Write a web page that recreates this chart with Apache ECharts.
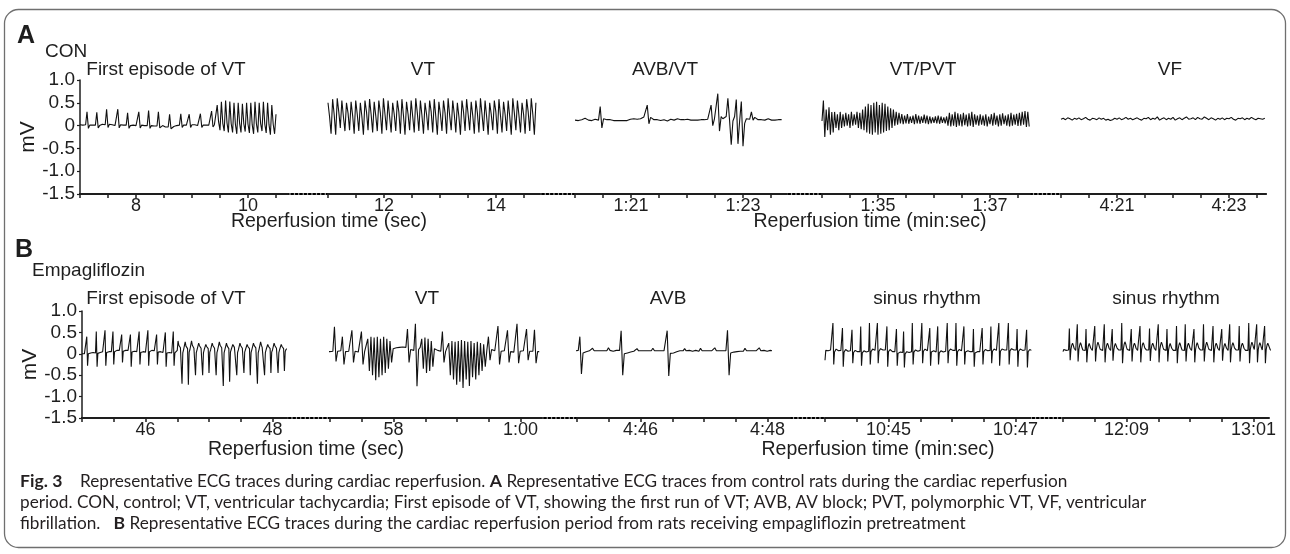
<!DOCTYPE html>
<html>
<head>
<meta charset="utf-8">
<script src="https://cdn.jsdelivr.net/npm/echarts@6/dist/echarts.min.js"></script>
<style>
html, body { margin: 0; padding: 0; background: #fff; }
#main { width: 1290px; height: 554px; }
</style>
</head>
<body>
<div id="main"></div>
<script>
// ---- ECG traces, mV (one value per sample) ----
// A: CON
var conFirstVT = [0.02,0,0.01,-0.01,0.02, 0.3,-0.06, 0.01,0.03,0.01,0,0.01, 0.29,-0.05, 0,0.02,0.03,0.01,0.02,
  0.36,-0.04, 0.03,0.04,0.02,0.01,0,0.01, 0.36,-0.05, 0.02,0.03,0.01,0,0.01, 0.28,-0.06, 0,0.02,0.01,-0.01,0,0.01,
  0.3,-0.05, 0.01,0.02,0,-0.01,0, 0.33,-0.06, 0,0.01,-0.01,-0.02,-0.01, 0.3,-0.05, -0.01,0,-0.02,-0.03,-0.04,-0.03,
  0.25,-0.07, -0.03,-0.02,-0.01,0,0.01,0.01, 0.26,-0.04, 0.01,0.02,0.01,0.01, 0.25,-0.04, 0.02,0.01,0.02,0.01,0,0.01,
  0.26,-0.04, 0.01,0.02,0.01,0.02,0.01,0.02, 0.32,-0.03, 0.02,0.05,
  0.45,0.08,-0.1, 0.52,0.05,-0.12, 0.55,0.06,-0.15, 0.53,0.04,-0.15, 0.5,0.03,-0.18, 0.5,0.05,-0.15, 0.48,0.04,-0.13,
  0.5,0.03,-0.16, 0.5,0.02,-0.18, 0.52,0.04,-0.15, 0.5,0.05,-0.12, 0.52,0.03,-0.16, 0.5,0.02,-0.2, 0.45,0.03,-0.18, 0.25];
var conVT = [0.5,0.2,-0.18, 0.58,0.25,-0.2, 0.6,0.3,-0.05, 0.55,0.2,-0.12, 0.5,0.28,-0.1, 0.52,0.22,-0.18, 0.55,0.25,-0.12,
  0.5,0.2,-0.2, 0.55,0.3,-0.1, 0.58,0.25,-0.15, 0.52,0.22,-0.12, 0.55,0.28,-0.18, 0.6,0.25,-0.1, 0.55,0.2,-0.15,
  0.5,0.25,-0.12, 0.55,0.3,-0.18, 0.58,0.22,-0.2, 0.52,0.25,-0.1, 0.55,0.2,-0.15, 0.6,0.28,-0.12, 0.55,0.22,-0.18,
  0.5,0.25,-0.1, 0.55,0.3,-0.15, 0.58,0.2,-0.2, 0.52,0.25,-0.12, 0.55,0.28,-0.18, 0.6,0.22,-0.1, 0.55,0.25,-0.15,
  0.5,0.2,-0.2, 0.55,0.3,-0.12, 0.58,0.25,-0.1, 0.52,0.22,-0.18, 0.55,0.28,-0.15, 0.6,0.25,-0.12, 0.55,0.2,-0.2,
  0.5,0.25,-0.1, 0.55,0.3,-0.18, 0.58,0.22,-0.15, 0.52,0.25,-0.12, 0.55,0.2,-0.2, 0.6,0.28,-0.1, 0.55,0.22,-0.15,
  0.5,0.25,-0.18, 0.58,0.3,-0.12, 0.6,0.25,-0.2, 0.5];
var conAVBVT = [0.12,0.13,0.11,0.14,0.13,0.12,0.16,0.13,0.12,0.13,0.11,0.12,0.14,0.13,0.12, 0.42,-0.05,
  0.15,0.14,0.13,0.12,0.13,0.12,0.11,0.12, 0.11,0.12,0.11,0.1,0.11,0.12,0.11,0.12,0.14,0.13,
  0.15,0.13,0.14,0.16,0.15,0.17,0.19,0.2, 0.45,0.04, 0.18,0.15,0.13,0.12,0.13,0.12,
  0.11,0.12,0.13,0.12,0.1,0.12,0.14,0.13,0.12,0.13, 0.15,0.14,0.13,0.12,0.13,0.16,0.14,0.13,0.12,0.13,
  0.12,0.13,0.12,0.14,0.13,0.12,0.13,0.15,0.14,0.12,
  0.45,0.0,0.15,0.18,0.7,-0.12,0.2,0.15,0.12,0.2,0.6,0.12,-0.42,0.1,0.2,0.57,-0.4,0.1,0.53,-0.45,0.05,0.15,0.18,0.14,0.3,0.12,0.18,0.14,
  0.13,0.12,0.13,0.14,0.12,0.13,0.15,0.13,0.12,0.13,0.12,0.14,0.13,0.12,0.13];
var conVTPVT = [0.1,0.55,-0.25,
  0.35,-0.1,0.4,-0.2,0.3,-0.15,0.3,-0.05,0.25,-0.1,0.3,-0.05,0.25,
  -0.02,0.28,0.0,0.25,-0.05,0.3,0.0,0.25,0.02,0.3,-0.05,0.28,-0.08,0.35,-0.1,
  0.42,-0.15,0.48,-0.18,0.45,-0.2,0.5,-0.15,0.52,-0.2,0.45,-0.18,0.5,-0.15,0.48,-0.12,0.42,-0.1,0.38,-0.05,0.35,0.0,0.3,0.02,0.28,
  0.05,0.25,0.03,0.22,0.05,0.25,0.04,0.2,0.06,0.22,0.03,0.25,0.05,0.22,0.04,0.2,0.06,0.24,0.05,0.22,
  0.03,0.2,0.05,0.18,0.06,0.2,0.05,0.22,0.04,0.2,0.06,0.18,0.05,0.2,
  0.0,0.28,-0.02,0.25,0.0,0.3,-0.03,0.27,0.0,0.25,-0.02,0.28,0.01,0.24,-0.02,0.27,0.0,0.3,-0.03,0.25,
  0.02,0.22,0.0,0.25,0.02,0.22,0.0,0.25,-0.02,0.2,0.03,
  0.25,0.0,0.28,0.02,0.22,-0.02,0.25,0.0,0.27,0.03,0.22,0.0,0.25,-0.02,0.28,0.0,0.24,0.02,0.26,-0.01,
  0.28,0.0,0.3,0.02,0.32,-0.03,0.3,-0.02];
var conVF = [0.14,0.16,0.13,0.17,0.15,0.12,0.16,0.14,0.17,0.13,0.15,0.18,0.14,0.12,0.16,0.15,0.13,0.17,0.14,0.16,
  0.12,0.14,0.11,0.13,0.16,0.14,0.17,0.13,0.15,0.18,0.14,0.16,0.13,0.15,0.17,0.14,0.12,0.16,0.15,0.18,
  0.13,0.16,0.14,0.19,0.12,0.15,0.17,0.13,0.16,0.14,0.18,0.12,0.15,0.17,0.13,0.16,0.19,0.14,0.15,0.17,
  0.13,0.18,0.15,0.14,0.19,0.16,0.13,0.17,0.15,0.12,0.16,0.14,0.17,0.13,0.16,0.15,0.18,0.14,0.12,0.16,
  0.15,0.17,0.13,0.16,0.14,0.18,0.15,0.13,0.16,0.15,0.14,0.16];

// B: Empagliflozin
var empFirstVT = [0.0,0.01,0.02,0.0,-0.01,0.01,
  0.4,-0.28, 0.0,0.02,0.03,0.02,0.01,0.02,0.03,0.02,0.01,0.02,
  0.52,-0.3, 0.01,0.03,0.04,0.03,0.03,0.04,0.05,0.04,0.04,
  0.55,-0.28, 0.03,0.05,0.06,0.05,0.05,0.06,0.05,0.05,
  0.52,-0.25, 0.05,0.07,0.08,0.08,0.07,0.08,0.08,0.07,0.08,
  0.45,-0.2, 0.06,0.08,0.09,0.08,0.07,0.07,0.08,0.07,0.06,
  0.45,-0.3, 0.04,0.06,0.07,0.06,0.05,0.06,0.05,0.05,0.05,
  0.52,-0.25, 0.03,0.05,0.06,0.05,0.04,0.05,0.04,0.04,0.04,
  0.55,-0.28, 0.05,0.07,0.08,0.08,0.07,0.08,0.07,0.07,0.06,
  0.45,-0.25, 0.04,0.05,0.06,0.05,0.04,0.04,0.03,0.04,0.03,
  0.5,-0.3, 0.02,0.03,0.04,0.03,0.02,0.03,0.02,0.02,
  0.52,-0.28, 0.02,0.04,0.05,0.08,
  0.3,0.2,0.16,0.14,0.12,-0.7,0.02,0.1,0.12,
  0.28,0.18,0.14,0.12,-0.72,0.04,0.1,0.12,
  0.3,0.2,0.16,0.13,0.11,-0.5,0.03,0.1,0.12,
  0.25,0.19,0.15,0.13,0.12,-0.5,0.02,0.1,0.11,
  0.22,0.17,0.14,0.12,-0.45,0.04,0.09,0.11,
  0.25,0.19,0.15,0.13,0.11,-0.5,0.03,0.1,0.12,
  0.28,0.2,0.16,0.14,0.12,-0.75,0.02,0.1,0.12,
  0.25,0.18,0.14,0.12,-0.65,0.04,0.1,0.11,
  0.22,0.18,0.15,0.13,0.11,-0.5,0.03,0.09,0.11,
  0.25,0.19,0.15,0.13,0.12,-0.45,0.04,0.1,0.12,
  0.22,0.17,0.14,0.12,-0.5,0.03,0.1,0.11,
  0.25,0.19,0.16,0.14,0.12,-0.7,0.02,0.1,0.12,
  0.28,0.2,0.15,0.13,0.11,-0.5,0.03,0.1,0.12,
  0.22,0.17,0.14,0.12,-0.45,0.04,0.09,0.11,
  0.25,0.19,0.15,0.13,0.12,-0.45,0.03,0.1,0.12,
  0.22,0.17,0.14,0.12,-0.4,0.05,0.1,0.12];
var empVT = [-0.25, 0.05,0.06,0.05,0.07,0.06, 0.63,-0.18, 0.06,0.05,0.07, 0.4,-0.25, 0.05,0.04,0.06,0.05,
  0.55,-0.2, 0.06,0.05,0.04,0.05, 0.52,-0.25, 0.05,0.08,
  0.35,-0.4,0.4,-0.5,0.38,-0.62,0.4,-0.55,0.35,-0.5,0.4,-0.45,0.35,-0.35,0.3,-0.2,
  0.12,0.15,0.14,0.16,0.15,0.17,0.16,0.18,0.15, 0.58,-0.2, 0.1,0.12,0.08, 0.7,-0.76, 0.1,0.15,
  0.35,-0.35,0.38,-0.45,0.35,-0.4,0.3,-0.3, 0.12,0.1,0.08,0.07,0.06, 0.52,-0.2, 0.05,0.02,
  0.25,-0.5,0.3,-0.6,0.28,-0.72,0.3,-0.65,0.32,-0.8,0.3,-0.6,0.28,-0.75,0.3,-0.55,0.25,-0.6,0.28,-0.5,0.25,-0.4,0.22,-0.3,
  0.08, 0.4,-0.15, 0.1,0.08,0.07,0.06, 0.65,-0.25, 0.06,0.05,0.07,0.05, 0.55,-0.2, 0.05,0.06,0.04,0.05,
  0.7,-0.22, 0.06,0.08,0.07,0.06, 0.58,-0.15, 0.06,0.05,0.06, 0.56,-0.22, 0.05,0.05];
var empAVB = [0.07,0.08,0.07,0.06,0.08, 0.4,-0.47, 0.02,0.04,0.05,0.06,0.07,0.06, 0.13,
  0.07,0.06,0.07,0.08,0.07,0.06,0.07,0.08,0.07, 0.14, 0.08,0.07,0.06,0.07,0.08,0.07,0.08,
  0.54,-0.5, 0.0,0.01,0.02,0.03,0.04,0.05,0.06,0.07, 0.12, 0.07,0.06,0.07,0.08,0.07,0.06,0.07,0.06,0.07, 0.13,
  0.07,0.06,0.07,0.08,0.07,0.06,0.07,0.08, 0.54,-0.52, 0.01,0.02,0.02,0.04,0.05,0.06,0.07,0.06,0.07, 0.12,
  0.07,0.06,0.08,0.07,0.06,0.07,0.08,0.07,0.06, 0.13, 0.07,0.06,0.07,0.08,0.07,0.06,0.07,0.08, 0.14,
  0.07,0.06,0.07,0.08,0.07,0.06,0.07, 0.55,-0.5, 0.02,0.03,0.04,0.04,0.05,0.05,0.06,0.07,0.06, 0.13,
  0.07,0.06,0.07,0.08,0.07,0.06,0.07,0.08, 0.14, 0.07,0.06,0.08,0.07,0.06,0.07,0.08,0.07];
var empSinus1 = [-0.15, 0.08,0.09,0.08,0.07,0.09,0.1,0.09,0.08,0.1,
  0.72,-0.25, 0.04,0.08,0.11,0.1,0.08,0.07,0.08,0.07,0.08,0.07,
  0.6,-0.3, 0.04,0.08,0.1,0.09,0.07,0.06,0.07,0.06,0.07,0.06,
  0.56,-0.22, 0.03,0.06,0.08,0.07,0.05,0.05,0.04,0.05,0.05,
  0.64,-0.28, 0.02,0.05,0.07,0.06,0.04,0.04,0.05,0.05,0.06,
  0.72,-0.25, 0.05,0.09,0.11,0.1,0.08,0.08,0.09,0.08,
  0.72,-0.22, 0.06,0.1,0.12,0.11,0.09,0.09,0.08,0.09,0.09,0.08,
  0.64,-0.3, 0.05,0.09,0.1,0.08,0.06,0.05,0.06,0.05,0.05,0.05,
  0.58,-0.28, 0.01,0.04,0.05,0.04,0.02,0.02,0.03,
  0.52,-0.32, 0.0,0.03,0.05,0.04,0.03,0.03,0.04,0.04,0.05,
  0.72,-0.25, 0.04,0.07,0.09,0.08,0.06,0.06,0.07,0.07,0.08,0.08,
  0.72,-0.22, 0.06,0.09,0.11,0.1,0.08,0.07,0.07,0.06,
  0.6,-0.28, 0.04,0.07,0.08,0.07,0.05,0.04,0.04,0.04,
  0.64,-0.25, 0.02,0.05,0.07,0.06,0.04,0.04,0.05,0.05,0.06,0.06,
  0.72,-0.22, 0.06,0.09,0.11,0.1,0.08,0.08,0.08,0.07,0.08,
  0.72,-0.28, 0.05,0.08,0.1,0.09,0.08,0.07,0.08,0.07,
  0.64,-0.25, 0.04,0.07,0.08,0.07,0.05,0.05,0.05,0.04,0.05,0.05,
  0.58,-0.3, 0.02,0.04,0.06,0.05,0.04,0.04,0.05,0.05,0.06,
  0.6,-0.25, 0.05,0.08,0.1,0.09,0.07,0.07,0.08,0.08,0.08,
  0.64,-0.22, 0.06,0.09,0.11,0.1,0.08,0.08,0.09,0.08,
  0.72,-0.28, 0.06,0.09,0.11,0.1,0.09,0.09,0.09,0.08,0.09,0.09,
  0.72,-0.25, 0.07,0.1,0.12,0.11,0.1,0.09,0.1,0.09,0.09,
  0.58,-0.3, 0.06,0.09,0.11,0.1,0.09,0.08,0.09,0.08,0.09,0.08,
  0.56,-0.32, 0.05,0.08,0.1,0.09,0.08];
var empSinus2 = [0.05,0.1,0.08,0.09,0.08,0.07,0.08,0.09,
  0.59,-0.15, 0.1,0.2,0.25,0.2,0.13,0.09,0.08,0.08,
  0.69,-0.18, 0.1,0.2,0.26,0.21,0.14,0.09,0.07,0.07,0.08,
  0.58,-0.2, 0.09,0.19,0.24,0.2,0.13,0.09,0.08,0.07,0.08,
  0.65,-0.18, 0.1,0.21,0.27,0.22,0.15,0.1,0.09,0.08,0.08,0.09,
  0.69,-0.2, 0.1,0.2,0.25,0.2,0.13,0.09,0.08,0.08,
  0.58,-0.16, 0.09,0.19,0.24,0.2,0.14,0.1,0.09,0.08,0.08,0.09,
  0.72,-0.22, 0.1,0.22,0.28,0.23,0.15,0.1,0.09,0.08,0.08,0.08,
  0.58,-0.18, 0.1,0.2,0.25,0.2,0.13,0.09,0.08,0.08,0.08,
  0.65,-0.2, 0.1,0.21,0.26,0.21,0.14,0.1,0.09,0.08,0.08,0.09,
  0.59,-0.17, 0.1,0.2,0.25,0.2,0.13,0.09,0.08,0.07,0.08,
  0.69,-0.2, 0.1,0.21,0.27,0.22,0.15,0.1,0.09,0.08,0.08,
  0.58,-0.18, 0.09,0.19,0.24,0.2,0.13,0.09,0.08,0.07,0.07,0.08,
  0.65,-0.22, 0.1,0.2,0.26,0.21,0.14,0.09,0.08,0.08,0.08,
  0.69,-0.18, 0.1,0.2,0.25,0.2,0.13,0.09,0.08,0.08,0.08,
  0.58,-0.2, 0.1,0.2,0.26,0.21,0.14,0.1,0.09,0.08,0.08,0.09,
  0.69,-0.18, 0.1,0.21,0.27,0.22,0.15,0.1,0.09,0.09,0.08,0.09,
  0.65,-0.2, 0.1,0.2,0.25,0.2,0.13,0.09,0.08,0.08,0.07,
  0.58,-0.16, 0.09,0.19,0.24,0.2,0.13,0.09,0.08,0.08,
  0.69,-0.2, 0.1,0.2,0.26,0.21,0.14,0.1,0.09,0.08,0.08,0.09,
  0.65,-0.18, 0.1,0.2,0.25,0.2,0.13,0.09,0.08,0.08,0.07,0.08,
  0.72,-0.22, 0.1,0.21,0.27,0.22,0.15,0.1,0.09,0.08,
  0.69,-0.2, 0.1,0.2,0.26,0.21,0.14,0.09,0.08,0.08,
  0.65,-0.22, 0.1,0.2,0.25,0.2,0.15,0.1,0.08];

// sample start (s) and sample step (s) of each trace
var conStarts = [7, 11, 80, 94, 260];
var conSteps = [0.025, 0.0275, 0.03, 0.025, 0.04];
var empStarts = [45, 56.92, 284.92, 644, 728];
var empSteps = [0.0125, 0.025, 0.025, 0.0125, 0.0125];

// axis start of each segment (s)
var conAxisMin = [7, 11, 80, 94, 260];
var empAxisMin = [45, 57, 285, 644, 728];

// tick labels
var conLabelVals = [[8, 10], [12, 14], [81, 83], [95, 97], [261, 263]];
var conLabels = [['8', '10'], ['12', '14'], ['1:21', '1:23'], ['1:35', '1:37'], ['4:21', '4:23']];
var empLabelVals = [[46, 48], [58, 60], [286, 288], [645, 647], [729, 731]];
var empLabels = [['46', '48'], ['58', '1:00'], ['4:46', '4:48'], ['10:45', '10:47'], ['12:09', '13:01']];
var yTicks = ['-1.5', '-1.0', '-0.5', '0', '0.5', '1.0'];

var conTitles = ['First episode of VT', 'VT', 'AVB/VT', 'VT/PVT', 'VF'];
var empTitles = ['First episode of VT', 'VT', 'AVB', 'sinus rhythm', 'sinus rhythm'];

// ---- layout ----
var FONT = '"Liberation Sans", Arial, sans-serif';
var INK = '#1e1e1e';
var panels = [
  { traces: [conFirstVT, conVT, conAVBVT, conVTPVT, conVF], starts: conStarts, steps: conSteps,
    mins: conAxisMin, lv: conLabelVals, lt: conLabels, titles: conTitles,
    lefts: [80, 328, 575, 822, 1061], widths: [208, 212, 212, 208, 205], pxPerSec: 56,
    top: 80, height: 114, titleX: [166, 423, 665, 923, 1170], titleY: 70 },
  { traces: [empFirstVT, empVT, empAVB, empSinus1, empSinus2], starts: empStarts, steps: empSteps,
    mins: empAxisMin, lv: empLabelVals, lt: empLabels, titles: empTitles,
    lefts: [82, 330, 577, 825, 1063], widths: [205, 212, 213, 205, 206], pxPerSec: 63.5,
    top: 311, height: 107, titleX: [166, 427, 668, 927, 1166], titleY: 299 }
];

var grids = [], xAxes = [], yAxes = [], series = [], graphics = [];

panels.forEach(function (p, pi) {
  // dotted baseline behind the segments
  var bg = grids.length;
  grids.push({ left: p.lefts[0], top: p.top, width: p.lefts[4] + p.widths[4] - p.lefts[0], height: p.height });
  xAxes.push({ gridIndex: bg, type: 'value', min: 0, max: 1, z: 1,
    axisLine: { show: true, onZero: false, lineStyle: { color: '#000', width: 2.2, type: [2, 2.4] } },
    axisTick: { show: false }, axisLabel: { show: false }, splitLine: { show: false } });
  yAxes.push({ gridIndex: bg, show: false, min: -1.5, max: 1 });

  for (var k = 0; k < 5; k++) {
    var gi = grids.length;
    var mn = p.mins[k], mx = mn + p.widths[k] / p.pxPerSec;
    grids.push({ left: p.lefts[k], top: p.top, width: p.widths[k], height: p.height });
    var ticks = [];
    for (var t = mn; t <= mx - 0.1; t += 0.5) ticks.push(t);
    (function (vals, labs) {
      xAxes.push({ gridIndex: gi, type: 'value', min: mn, max: mx, z: 3,
        axisLine: { show: true, onZero: false, lineStyle: { color: INK, width: 2 } },
        axisTick: { show: true, customValues: ticks, length: 4, lineStyle: { color: INK, width: 1.5 } },
        axisLabel: { customValues: vals, margin: 3, fontSize: 18, color: INK, fontFamily: FONT,
          formatter: function (v) {
            for (var i = 0; i < vals.length; i++) if (Math.abs(vals[i] - v) < 1e-6) return labs[i];
            return '';
          } },
        splitLine: { show: false } });
    })(p.lv[k], p.lt[k]);

    if (k === 0) {
      yAxes.push({ gridIndex: gi, type: 'value', min: -1.5, max: 1, interval: 0.5,
        axisLine: { show: true, lineStyle: { color: INK, width: 1.5 } },
        axisTick: { show: true, length: 3, lineStyle: { color: INK, width: 1.2 } },
        axisLabel: { fontSize: 19, color: INK, fontFamily: FONT, margin: 5,
          formatter: function (v) { return yTicks[Math.round((v + 1.5) / 0.5)]; } },
        splitLine: { show: false },
        name: 'mV', nameLocation: 'middle', nameGap: 37,
        nameTextStyle: { fontSize: 21, color: INK, fontFamily: FONT } });
    } else {
      yAxes.push({ gridIndex: gi, show: false, min: -1.5, max: 1 });
    }

    var st = p.starts[k], sp = p.steps[k];
    series.push({ type: 'line', xAxisIndex: gi, yAxisIndex: gi, clip: false,
      showSymbol: false, symbol: 'none', animation: false, silent: true,
      lineStyle: { color: '#111', width: 1.1 },
      data: p.traces[k].map(function (v, i) { return [st + i * sp, v]; }) });

    graphics.push({ type: 'text', x: p.titleX[k], y: p.titleY,
      style: { text: p.titles[k], fontSize: 19, fontFamily: FONT, fill: INK,
        textAlign: 'center', textVerticalAlign: 'middle', align: 'center', verticalAlign: 'middle' } });
  }
});

function txt(s, x, y, size, weight, align) {
  return { type: 'text', x: x, y: y,
    style: { text: s, fontSize: size, fontWeight: weight || 'normal', fontFamily: FONT, fill: INK,
      textAlign: align || 'center', align: align || 'center',
      textVerticalAlign: 'middle', verticalAlign: 'middle' } };
}

graphics.push(
  { type: 'rect', shape: { x: 4.5, y: 9.5, width: 1281, height: 538, r: 14 },
    style: { fill: 'none', stroke: '#6f6f6f', lineWidth: 1.3 }, z: -10 },
  txt('A', 26, 36, 25, 'bold'),
  txt('CON', 45, 52, 19, 'normal', 'left'),
  txt('Reperfusion time (sec)', 329, 222, 19.5),
  txt('Reperfusion time (min:sec)', 870, 222, 19.5),
  txt('B', 24, 250, 25, 'bold'),
  txt('Empagliflozin', 32, 271, 19, 'normal', 'left'),
  txt('Reperfusion time (sec)', 306, 450, 19.5),
  txt('Reperfusion time (min:sec)', 878, 450, 19.5)
);

var CAP = 'Lato, "Open Sans", sans-serif';
var capLines = [
  '{b|Fig. 3}    Representative ECG traces during cardiac reperfusion. {b|A} Representative ECG traces from control rats during the cardiac reperfusion',
  'period. CON, control; VT, ventricular tachycardia; First episode of VT, showing the first run of VT; AVB, AV block; PVT, polymorphic VT, VF, ventricular',
  'fibrillation.   {b|B} Representative ECG traces during the cardiac reperfusion period from rats receiving empagliflozin pretreatment'
];
capLines.forEach(function (s, i) {
  graphics.push({ type: 'text', x: 20, y: 481 + i * 21,
    style: { text: s, fontSize: 17.2, fontFamily: CAP, fill: '#231f20',
      textAlign: 'left', align: 'left', textVerticalAlign: 'middle', verticalAlign: 'middle',
      rich: { b: { fontSize: 17.6, fontFamily: CAP, fontWeight: 'bold', fill: '#231f20' } } } });
});

var chart = echarts.init(document.getElementById('main'));
chart.setOption({
  animation: false,
  backgroundColor: '#fff',
  grid: grids,
  xAxis: xAxes,
  yAxis: yAxes,
  series: series,
  graphic: graphics
});
</script>
</body>
</html>
